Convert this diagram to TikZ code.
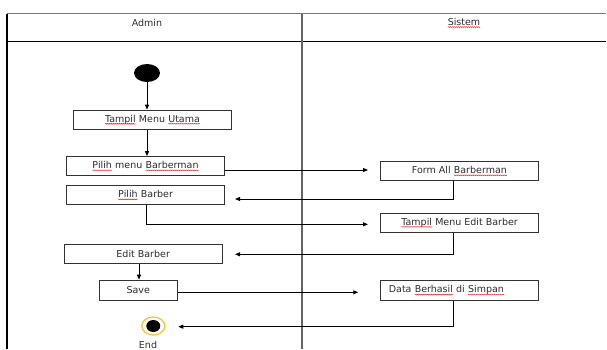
\documentclass[tikz,border=0pt]{standalone}
\usepackage{fontspec}
\setmainfont{DejaVu Sans}
\usetikzlibrary{arrows.meta,decorations.pathmorphing,shapes.geometric}
\definecolor{boxgray}{RGB}{50,50,50}
\definecolor{txtgray}{RGB}{45,45,45}
\definecolor{framegray}{RGB}{120,120,120}
\definecolor{divgray}{RGB}{100,100,100}
\definecolor{endyellow}{RGB}{245,195,60}
\definecolor{sqred}{RGB}{220,30,30}
\newcommand\sqw[1]{\tikz[baseline=(sqnode.base)]{\node[inner sep=0pt,outer sep=0pt,minimum width=0pt,minimum height=0pt,draw=none,fill=none](sqnode){#1};\draw[sqred,line width=0.45pt,decorate,decoration={snake,amplitude=0.45pt,segment length=2pt}]([yshift=-1.6pt]sqnode.base west)--([yshift=-1.6pt]sqnode.base east);}}
\tikzset{
 txt/.style={font=\fontsize{9.5}{10}\selectfont,text=txtgray},
 box/.style={txt,draw=boxgray,line width=1.1pt,minimum height=19pt,inner sep=0pt},
 conn/.style={line width=0.9pt,-{Triangle[length=5pt,width=4pt]}},
 plainline/.style={line width=0.9pt}
}
\begin{document}
\begin{tikzpicture}[x=1pt,y=-1pt]
\useasboundingbox (0,0) rectangle (607,349);
\fill[white] (0,0) rectangle (607,349);
% frame
\coordinate (tl) at (7,13.5);
\coordinate (tr) at (606,13.5);
\coordinate (hl) at (7,41.3);
\coordinate (hr) at (606,41.3);
\coordinate (bl) at (7,349);
\coordinate (dt) at (301.7,13.5);
\coordinate (db) at (301.7,349);
\draw[framegray,line width=1.4pt] (tl) -- (tr);
\draw[black,line width=1.1pt] (hl) -- (hr);
\draw[black,line width=1.3pt] (tl) -- (bl);
\draw[divgray,line width=1.8pt] (dt) -- (db);
\node[txt] (admin) at (147,23) {Admin};
\node[txt] (sistem) at (464,23) {\sqw{Sistem}};
% nodes
\node[ellipse,fill=black,minimum width=26pt,minimum height=18pt,inner sep=0pt] (start) at (147,73) {};
\node[box,minimum width=158pt] (tampil) at (152.5,119.7) {\sqw{Tampil} Menu \sqw{Utama}};
\node[box,minimum width=157.5pt] (pmb) at (145.5,166.2) {\sqw{Pilih} menu \sqw{Barberman}};
\node[box,minimum width=157.5pt] (pb) at (145.5,195.3) {\sqw{Pilih} Barber};
\node[box,minimum width=158pt] (eb) at (143.2,254) {Edit Barber};
\node[box,minimum width=78pt,minimum height=20pt] (save) at (138.3,290.2) {Save};
\node[box,minimum width=157.5pt] (form) at (459.5,171.3) {Form All \sqw{Barberman}};
\node[box,minimum width=157.5pt] (tmeb) at (459.5,222.8) {\sqw{Tampil} Menu Edit Barber};
\node[box,minimum width=157.5pt,minimum height=19.5pt] (data) at (459.5,290.5) {\hspace*{-26pt}Data \sqw{Berhasil} di \sqw{Simpan}};
\node[ellipse,draw=endyellow,fill=white,line width=1.3pt,minimum width=23pt,minimum height=18pt,inner sep=0pt] (end) at (153.3,326) {};
\node[ellipse,fill=black,minimum width=14pt,minimum height=12pt,inner sep=0pt] (endin) at (end.center) {};
\node[txt,anchor=base] (endlbl) at (148,348) {End};
% connectors
\draw[conn] (start.south) -- (start.south |- tampil.north);
\draw[conn] (start.south |- tampil.south) -- (start.south |- pmb.north);
\coordinate (a1) at (368,170);
\draw[conn] (pmb.east |- a1) -- (a1);
\coordinate (b2) at (453.7,199);
\coordinate (a2) at (235,199);
\draw[conn] (form.south -| b2) -- (b2) -- (a2);
\coordinate (b3) at (146,224.3);
\coordinate (a3) at (368,224.3);
\draw[conn] (pb.south -| b3) -- (b3) -- (a3);
\coordinate (b4) at (453.7,254.3);
\coordinate (a4) at (235,254.3);
\draw[conn] (tmeb.south -| b4) -- (b4) -- (a4);
\coordinate (b5) at (139,0);
\draw[conn] (eb.south -| b5) -- (save.north -| b5);
\coordinate (a6) at (358.3,292.3);
\draw[conn] (save.east |- a6) -- (a6);
\coordinate (b7) at (453.7,326.7);
\coordinate (a7) at (178.3,326.7);
\draw[conn] (data.south -| b7) -- (b7) -- (a7);
\end{tikzpicture}
\end{document}
